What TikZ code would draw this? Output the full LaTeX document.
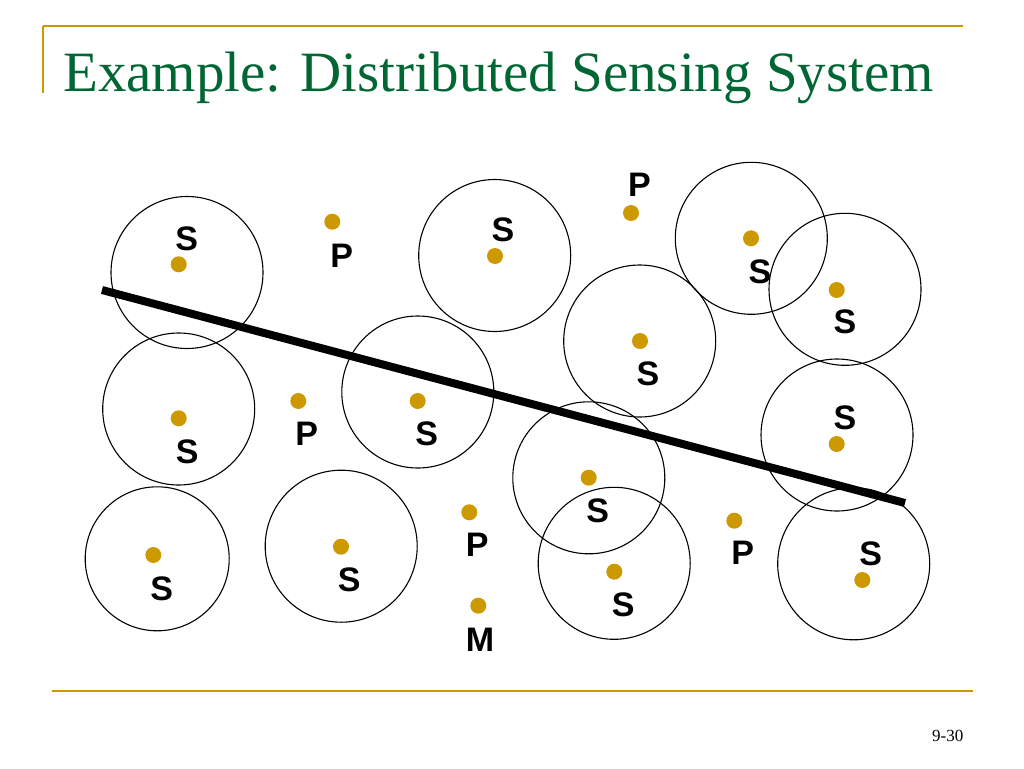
\documentclass[tikz,border=0pt]{standalone}
\usepackage{fontspec}
\setmainfont{Liberation Serif}
\newfontfamily\tagfont{Liberation Sans}
\usepackage{xcolor}
\definecolor{titlegreen}{RGB}{0,102,51}
\definecolor{gold}{RGB}{204,153,0}
\usetikzlibrary{positioning}

\tikzset{
  sensrange/.style={circle, draw, line width=1.1pt, minimum size=152pt, inner sep=0pt},
  mote/.style={circle, fill=gold, minimum size=16pt, inner sep=0pt},
  tag/.style={font=\tagfont\bfseries\fontsize{34}{34}\selectfont, inner sep=0pt},
}

\begin{document}
\begin{tikzpicture}[x=1pt, y=-1pt]
    \useasboundingbox (0,0) rectangle (1024,768);

    % --- Slide frame ---
    \draw[gold, line width=1.6pt] (42.7,93) -- (42.7,25.7);
    \draw[gold, line width=2pt] (42.7,25.7) -- (963,25.7);
    \draw[gold, line width=2.5pt] (52,691) -- (972.7,691);
    \node[anchor=base west, inner sep=0pt, text=titlegreen,
          font=\fontsize{57}{57}\selectfont] (title) at (63,91)
          {Example: Distributed Sensing System};
    \node[inner sep=0pt, font=\fontsize{17}{17}\selectfont] (page) at (947.7,736) {9-30};

    % --- Sensing ranges ---
    \node[sensrange] (r1) at (187,272.5) {};
    \node[sensrange] (r2) at (494.7,255.5) {};
    \node[sensrange] (r3) at (751.3,238.3) {};
    \node[sensrange] (r4) at (845,289.3) {};
    \node[sensrange] (r5) at (639.7,341) {};
    \node[sensrange] (r6) at (178.7,409) {};
    \node[sensrange] (r7) at (417.8,392) {};
    \node[sensrange] (r8) at (837,435) {};
    \node[sensrange] (r9) at (588.8,477.8) {};
    \node[sensrange, minimum size=144pt] (r10) at (157.2,558.8) {};
    \node[sensrange] (r11) at (341.2,546.2) {};
    \node[sensrange] (r12) at (614.2,563.3) {};
    \node[sensrange] (r13) at (853.7,563.8) {};

    % --- Boundary line ---
    \coordinate (edgeA) at (102,290);
    \coordinate (edgeB) at (905,503);
    \draw[line width=8pt] (edgeA) -- (edgeB);

    % --- Sensors S ---
    \node[mote] (s1) at (178.7,264.3) {};
    \node[tag] (s1t) at (186.7,239) {S};
    \node[mote] (s2) at (495,256) {};
    \node[tag] (s2t) at (503,230) {S};
    \node[mote] (s3) at (751,238.3) {};
    \node[tag] (s3t) at (760,271.7) {S};
    \node[mote] (s4) at (836.7,290) {};
    \node[tag] (s4t) at (845,321.7) {S};
    \node[mote] (s5) at (640,341) {};
    \node[tag] (s5t) at (648,374) {S};
    \node[mote] (s6) at (178.7,418.3) {};
    \node[tag] (s6t) at (187.3,451.7) {S};
    \node[mote] (s7) at (417.7,401) {};
    \node[tag] (s7t) at (426.7,433.3) {S};
    \node[mote] (s8) at (836.7,444) {};
    \node[tag] (s8t) at (845,417.3) {S};
    \node[mote] (s9) at (588.7,477.7) {};
    \node[tag] (s9t) at (597.7,510.7) {S};
    \node[mote] (s10) at (153.3,555) {};
    \node[tag] (s10t) at (161.7,588.3) {S};
    \node[mote] (s11) at (341,546.7) {};
    \node[tag] (s11t) at (349.3,579.3) {S};
    \node[mote] (s12) at (614.3,571.7) {};
    \node[tag] (s12t) at (623.3,605) {S};
    \node[mote] (s13) at (862.3,580) {};
    \node[tag] (s13t) at (870.7,553.3) {S};

    % --- Nodes P and M ---
    \node[mote] (p1) at (332.3,221.7) {};
    \node[tag] (p1t) at (341.7,256) {P};
    \node[mote] (p2) at (631,213) {};
    \node[tag] (p2t) at (639.5,185) {P};
    \node[mote] (p3) at (298.3,401) {};
    \node[tag] (p3t) at (306.7,433.3) {P};
    \node[mote] (p4) at (469.3,512.3) {};
    \node[tag] (p4t) at (477.3,545) {P};
    \node[mote] (p5) at (734.3,520.7) {};
    \node[tag] (p5t) at (742.7,552.7) {P};
    \node[mote] (m1) at (478.3,605.7) {};
    \node[tag] (m1t) at (480,639.3) {M};

\end{tikzpicture}
\end{document}
